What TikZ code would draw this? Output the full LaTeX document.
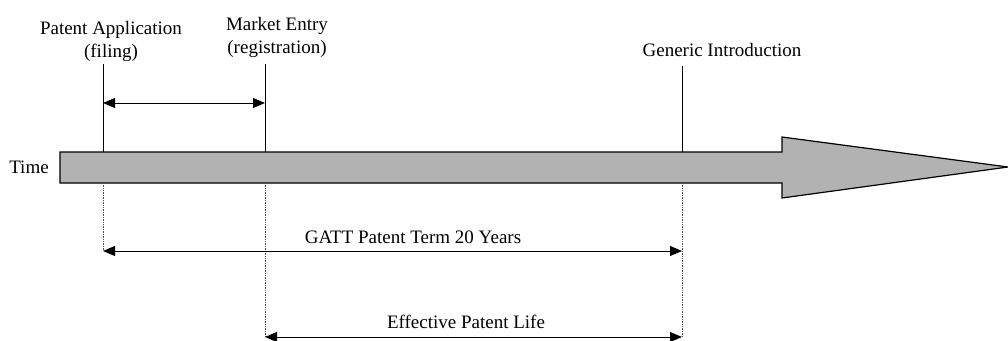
\documentclass[tikz,border=0pt]{standalone}
\usepackage{fontspec}
\setmainfont{Liberation Serif}
\usetikzlibrary{arrows.meta}

\begin{document}
\begin{tikzpicture}[x=1pt,y=-1pt]
        \useasboundingbox (0,0) rectangle (1008,340);
        \begin{scope}[every node/.style={font=\fontsize{19}{23}\selectfont, align=center, inner sep=0},
                      mark line/.style={line width=1pt},
                      guide/.style={densely dotted, line width=0.7pt, black!70},
                      span/.style={line width=1pt, {Triangle[length=12pt,width=10pt]}-{Triangle[length=12pt,width=10pt]}}]
                % time bar
                \draw[line width=1.2pt, fill=black!30] (60,152) -- (782,152) -- (782,137) -- (1008,167)
                        -- (782,198) -- (782,183) -- (60,183) -- cycle;
                \node (Time) at (29,167) {Time};

                \node (Filing) at (111,41) {Patent Application\\(filing)};
                \node (Entry) at (277,37) {Market Entry\\(registration)};
                \node (Generic) at (722,50) {Generic Introduction};

                \coordinate (FilingTop) at (103,64);
                \coordinate (FilingBar) at (103,152);
                \coordinate (FilingLow) at (103,183);
                \coordinate (FilingEnd) at (103,251);
                \coordinate (EntryTop) at (265,64);
                \coordinate (EntryBar) at (265,152);
                \coordinate (EntryLow) at (265,183);
                \coordinate (EntryEnd) at (265,337);
                \coordinate (GenericTop) at (682,66);
                \coordinate (GenericBar) at (682,152);
                \coordinate (GenericLow) at (682,183);
                \coordinate (GenericEnd) at (682,337);

                \draw[mark line] (FilingTop) -- (FilingBar);
                \draw[mark line] (EntryTop) -- (EntryBar);
                \draw[mark line] (GenericTop) -- (GenericBar);
                \draw[guide] (FilingLow) -- (FilingEnd);
                \draw[guide] (EntryLow) -- (EntryEnd);
                \draw[guide] (GenericLow) -- (GenericEnd);

                \draw[span] (FilingTop |- 0,103) -- (EntryTop |- 0,103);
                \draw[span] (FilingEnd) -- (GenericEnd |- FilingEnd);
                \draw[span] (EntryEnd) -- (GenericEnd);

                \node (Gatt) at (413,237) {GATT Patent Term 20 Years};
                \node (Life) at (466,322) {Effective Patent Life};
        \end{scope}
\end{tikzpicture}
\end{document}
